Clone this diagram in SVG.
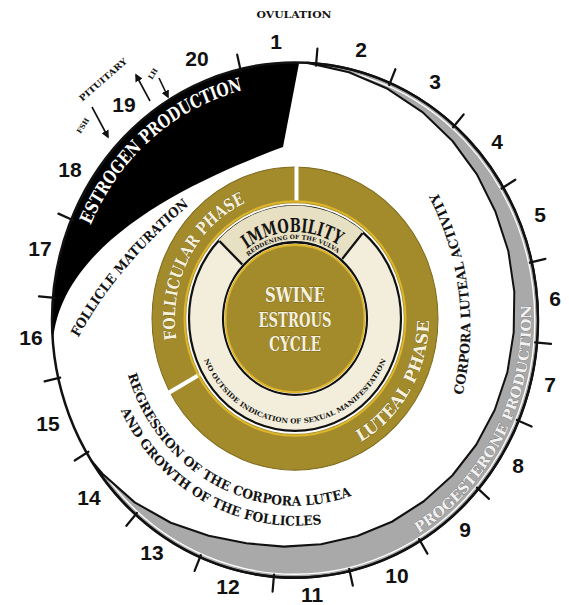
<svg xmlns="http://www.w3.org/2000/svg" width="569" height="605" viewBox="0 0 569 605">
<style>
.t{font-family:"DejaVu Serif","Liberation Serif",serif;font-weight:bold}
.num{font-family:"Liberation Sans",Arial,sans-serif;font-weight:bold;font-size:21px;text-anchor:middle;fill:#111}
.tick{stroke:#111;stroke-width:2.2;stroke-linecap:round;fill:none}
.mid{text-anchor:middle}
.dark{fill:#141414}
.light{fill:#f6f1dc;stroke:#4a3d0c;stroke-width:0.5;paint-order:stroke}
</style>
<defs>
<marker id="ah" viewBox="0 0 10 10" refX="8" refY="5" markerWidth="5" markerHeight="5" orient="auto"><path d="M0,0 L10,5 L0,10 z" fill="#111"/></marker>
<path id="grayband" d="M 307.7 59.3 A 243 243 0 1 1 91.2 434.3 L 102.5 447 L 134.7 473.9 L 170.8 493.2 L 208.7 505.4 L 246.4 512.5 L 283.8 515.7 L 321 513.4 L 357.3 505.7 L 391.9 492.2 L 423.8 472.9 L 452.3 448.6 L 476.2 419.6 L 494.7 386.8 L 507.4 351.1 L 513.7 313.5 L 514.3 275.1 L 508.3 236.8 L 495.5 199.8 L 477.1 164.8 L 452.5 133 L 422.4 105.7 L 387.6 83.8 L 349 68.1 Z"/>
<clipPath id="gclip"><use href="#grayband"/></clipPath>
<path id="p-estro" d="M 85.4 225.7 A 223 223 0 0 1 256.3 82.4"/>
<path id="p-follmat" d="M 77 321 Q 114 253.5 191 192"/>
<path id="p-corp" d="M 454.4 399 A 263 263 0 0 0 422.7 158.1"/>
<path id="p-prog" d="M 375.7 523.8 A 236 236 0 0 0 523 240.9"/>
<path id="p-reg1" d="M 124.5 341.4 A 175 175 0 0 0 363.4 463.1"/>
<path id="p-reg2" d="M 112.7 368.4 A 194 194 0 0 0 341.9 490.2"/>
<path id="p-foll" d="M 182.2 341.5 A 120 120 0 0 1 266 184.1"/>
<path id="p-lut" d="M 340.8 426.4 A 134 134 0 0 0 427.6 280.9"/>
<path id="p-imm" d="M 242.6 238 A 81.5 81.5 0 0 1 343 234.5"/>
<path id="p-red" d="M 246.8 243 A 75 75 0 0 1 339.1 239.8"/>
<path id="p-no" d="M 202 334.4 A 99 99 0 0 0 388 334.4"/>
</defs>
<rect width="569" height="605" fill="#fff"/>
<g transform="matrix(1 0 0 1.06 0 0)">
  <g id="ring">
    <circle cx="295" cy="302" r="243" fill="#fff"/>
    <use href="#grayband" fill="#a9a9a9"/>
    <circle cx="295" cy="302" r="239.8" fill="none" stroke="#fff" stroke-width="1.3" clip-path="url(#gclip)"/>
    <use href="#grayband" fill="none" stroke="#111" stroke-width="2" stroke-linejoin="round"/>
    <path id="estrogen-band" d="M 52.9 323.2 A 243 243 0 0 1 299.2 59.0 L 283 138.7 C 200 168 60 226 52.9 323.2 Z" fill="#000"/>
    <circle cx="295" cy="302" r="243" fill="none" stroke="#111" stroke-width="2.5"/>
  </g>
  <g id="ticks" class="tick">
    <line x1="316" y1="61.9" x2="317.4" y2="46"/>
    <line x1="389.2" y1="80.2" x2="395.4" y2="65.4"/>
    <line x1="453.1" y1="120.1" x2="463.6" y2="108"/>
    <line x1="501.6" y1="177.9" x2="515.3" y2="169.6"/>
    <line x1="529.8" y1="247.8" x2="545.4" y2="244.2"/>
    <line x1="535.1" y1="323" x2="551" y2="324.4"/>
    <line x1="516.8" y1="396.2" x2="531.6" y2="402.4"/>
    <line x1="476.9" y1="460.1" x2="489" y2="470.6"/>
    <line x1="419.1" y1="508.6" x2="427.4" y2="522.3"/>
    <line x1="349.2" y1="536.8" x2="352.8" y2="552.4"/>
    <line x1="274" y1="542.1" x2="272.6" y2="558"/>
    <line x1="200.8" y1="523.8" x2="194.6" y2="538.6"/>
    <line x1="136.9" y1="483.9" x2="126.4" y2="496"/>
    <line x1="88.4" y1="426.1" x2="74.7" y2="434.4"/>
    <line x1="60.2" y1="356.2" x2="44.6" y2="359.8"/>
    <line x1="54.9" y1="281" x2="39" y2="279.6"/>
    <line x1="73.2" y1="207.8" x2="58.4" y2="201.6"/>
    <line x1="240.8" y1="67.2" x2="237.2" y2="51.6"/>
  </g>
  <g id="ring-labels" class="t">
    <text font-size="17.5" fill="#fff"><textPath href="#p-estro" startOffset="50%" text-anchor="middle" textLength="205" lengthAdjust="spacingAndGlyphs">ESTROGEN PRODUCTION</textPath></text>
    <text font-size="13" class="dark"><textPath href="#p-follmat" startOffset="50%" text-anchor="middle" textLength="168" lengthAdjust="spacingAndGlyphs">FOLLICLE MATURATION</textPath></text>
    <text font-size="13" class="dark"><textPath href="#p-corp" startOffset="50%" text-anchor="middle" textLength="198" lengthAdjust="spacingAndGlyphs">CORPORA LUTEAL ACTIVITY</textPath></text>
    <text font-size="14" fill="#f2f2f2" stroke="#666" stroke-width="0.6" paint-order="stroke"><textPath href="#p-prog" startOffset="50%" text-anchor="middle" textLength="255" lengthAdjust="spacingAndGlyphs">PROGESTERONE PRODUCTION</textPath></text>
    <text font-size="12.5" class="dark"><textPath href="#p-reg1" startOffset="50%" text-anchor="middle" textLength="280" lengthAdjust="spacingAndGlyphs">REGRESSION OF THE CORPORA LUTEA</textPath></text>
    <text font-size="12.5" class="dark"><textPath href="#p-reg2" startOffset="50%" text-anchor="middle" textLength="243" lengthAdjust="spacingAndGlyphs">AND GROWTH OF THE FOLLICLES</textPath></text>
  </g>
  <g id="wheel">
    <circle cx="295" cy="300.5" r="143" fill="#a38b2c" stroke="#7d6a1c" stroke-width="1"/>
    <line x1="296.5" y1="190" x2="296.5" y2="156" stroke="#fff" stroke-width="4"/>
    <line x1="199.7" y1="353.3" x2="168.2" y2="370.8" stroke="#fff" stroke-width="4"/>
    <circle cx="295" cy="300.5" r="110.5" fill="none" stroke="#dcb52b" stroke-width="2"/>
    <circle cx="295" cy="300.5" r="108.8" fill="#fff"/>
    <circle cx="295" cy="300.5" r="106" fill="#f2eedb" stroke="#111" stroke-width="2.2"/>
    <path id="immobility-seg" d="M 218.4 226.5 A 106.5 106.5 0 0 1 363.5 218.9 L 341.6 245 A 72.5 72.5 0 0 0 242.9 250.1 Z" fill="#e8e0c3"/>
    <line x1="219.5" y1="227.5" x2="242.9" y2="250.1" stroke="#111" stroke-width="2.2"/>
    <line x1="362.5" y1="220" x2="341.6" y2="245" stroke="#111" stroke-width="2.2"/>
    <circle cx="295" cy="300.5" r="73.5" fill="#fff"/>
    <circle cx="295" cy="300.5" r="72" fill="none" stroke="#111" stroke-width="2.2"/>
    <circle cx="295" cy="300.5" r="69.5" fill="#a38b2c" stroke="#dcb52b" stroke-width="2"/>
  </g>
  <g id="wheel-labels" class="t">
    <text font-size="16.5" class="light"><textPath href="#p-foll" startOffset="50%" text-anchor="middle" textLength="157" lengthAdjust="spacingAndGlyphs">FOLLICULAR PHASE</textPath></text>
    <text font-size="16.5" class="light"><textPath href="#p-lut" startOffset="50%" text-anchor="middle" textLength="140" lengthAdjust="spacingAndGlyphs">LUTEAL PHASE</textPath></text>
    <text font-size="18" class="dark"><textPath href="#p-imm" startOffset="50%" text-anchor="middle" textLength="98" lengthAdjust="spacingAndGlyphs">IMMOBILITY</textPath></text>
    <text font-size="5.5" class="dark"><textPath href="#p-red" startOffset="50%" text-anchor="middle" textLength="96" lengthAdjust="spacingAndGlyphs">REDDENING OF THE VULVA</textPath></text>
    <text font-size="6.5" class="dark"><textPath href="#p-no" startOffset="50%" text-anchor="middle" textLength="230" lengthAdjust="spacingAndGlyphs">NO OUTSIDE INDICATION OF SEXUAL MANIFESTATION</textPath></text>
    <text x="295" y="285" font-size="19" class="light mid" textLength="60" lengthAdjust="spacingAndGlyphs">SWINE</text>
    <text x="295" y="308.5" font-size="19" class="light mid" textLength="73" lengthAdjust="spacingAndGlyphs">ESTROUS</text>
    <text x="295" y="331" font-size="19" class="light mid" textLength="52" lengthAdjust="spacingAndGlyphs">CYCLE</text>
  </g>
</g>
<g id="day-numbers">
  <text class="num" x="276" y="49">1</text>
  <text class="num" x="361" y="57">2</text>
  <text class="num" x="435" y="89">3</text>
  <text class="num" x="497" y="149">4</text>
  <text class="num" x="540" y="222">5</text>
  <text class="num" x="555" y="306">6</text>
  <text class="num" x="550" y="392">7</text>
  <text class="num" x="518" y="473">8</text>
  <text class="num" x="465" y="537">9</text>
  <text class="num" x="397" y="583">10</text>
  <text class="num" x="312" y="602">11</text>
  <text class="num" x="228" y="594">12</text>
  <text class="num" x="152" y="560">13</text>
  <text class="num" x="89" y="505">14</text>
  <text class="num" x="48" y="431">15</text>
  <text class="num" x="31" y="345">16</text>
  <text class="num" x="40" y="256">17</text>
  <text class="num" x="70" y="177">18</text>
  <text class="num" x="124" y="112">19</text>
  <text class="num" x="197" y="66">20</text>
</g>
<g id="top-labels" class="t dark">
  <text x="294" y="18" font-size="9" class="mid" textLength="75" lengthAdjust="spacingAndGlyphs">OVULATION</text>
  <text transform="translate(105,82) rotate(-41)" font-size="8.5" class="mid" textLength="60" lengthAdjust="spacingAndGlyphs">PITUITARY</text>
  <text transform="translate(85,127) rotate(-58)" font-size="7" class="mid">FSH</text>
  <text transform="translate(155,75) rotate(-58)" font-size="7" class="mid">LH</text>
</g>
<g id="connectors" stroke="#111" stroke-width="1.6" fill="none">
  <path d="M 92 107 L 108 137" marker-end="url(#ah)"/>
  <path d="M 150 101 L 136 75" marker-end="url(#ah)"/>
  <path d="M 159 78 L 168 97" marker-end="url(#ah)"/>
</g>
</svg>
